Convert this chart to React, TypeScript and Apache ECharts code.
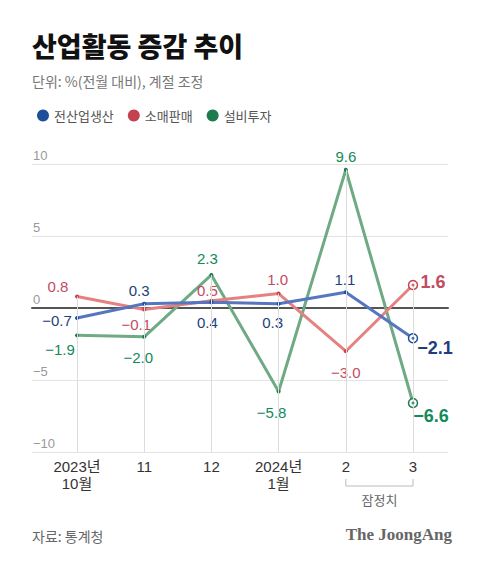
import React, { useEffect, useRef } from "react";
import * as echarts from "echarts";

const categories = ["2023년\n10월", "11", "12", "2024년\n1월", "2", "3"];
const production = [-0.7, 0.3, 0.4, 0.3, 1.1, -2.1];
const retail = [0.8, -0.1, 0.5, 1.0, -3.0, 1.6];
const investment = [-1.9, -2.0, 2.3, -5.8, 9.6, -6.6];
const seriesNames = ["전산업생산", "소매판매", "설비투자"];
const yMin = -10;
const yMax = 10;
const yStep = 5;
const provisionalFrom = 4;
const provisionalTo = 5;

// label placement (label centre relative to the point, px)
const prodOffsets = [[-20, 2], [-5, -13], [-4, 20], [-6, 19], [-1, -13], [22, 10]];
const retailOffsets = [[-19, -10], [-8, 15], [-4, -10], [-1, -14], [0, 21], [20, -3]];
const investOffsets = [[-17, 14], [-6, 21], [-4, -16], [-7, 21], [0, -13], [18, 13]];

const KR = '"Noto Sans CJK KR", sans-serif';
const NUM = '"Liberation Sans", Arial, "Noto Sans CJK KR", sans-serif';

const fmt = (v: number) => (v < 0 ? "\u2212" : "") + Math.abs(v).toFixed(1);

function makeSeries(
  name: string,
  values: number[],
  offsets: number[][],
  lineColor: string,
  dotColor: string,
  labelColor: string,
  z: number
) {
  return {
    name,
    type: "line",
    xAxisIndex: 1,
    yAxisIndex: 1,
    symbol: "circle",
    showSymbol: true,
    z,
    silent: true,
    lineStyle: { color: lineColor, width: 3 },
    itemStyle: { color: dotColor },
    emphasis: { disabled: true },
    data: values.map((v, i) => {
      const last = i === values.length - 1;
      return {
        value: v,
        symbolSize: last ? 9 : 4,
        itemStyle: last
          ? { color: "#fff", borderColor: dotColor, borderWidth: 1.5 }
          : undefined,
        label: {
          show: true,
          position: "inside",
          align: "center",
          verticalAlign: "middle",
          offset: offsets[i],
          formatter: fmt(v),
          color: labelColor,
          fontSize: last ? 18 : 15,
          fontWeight: last ? "bold" : "normal",
          fontFamily: NUM,
        },
      };
    }),
  };
}

function innerDot(values: number[], color: string, z: number) {
  const i = values.length - 1;
  return {
    type: "scatter",
    xAxisIndex: 1,
    yAxisIndex: 1,
    symbol: "circle",
    symbolSize: 3,
    z,
    silent: true,
    itemStyle: { color },
    data: [[i, values[i]]],
  };
}

export default function App() {
  const ref = useRef<HTMLDivElement>(null);

  useEffect(() => {
    document.body.style.margin = "0";
    if (!ref.current) return;
    const chart = echarts.init(ref.current, null, { renderer: "svg" });

    const maxVals = categories.map((_, i) =>
      Math.max(production[i], retail[i], investment[i])
    );

    const blue = { line: "#5677c0", dot: "#1f4f98", label: "#1d3f7a" };
    const red = { line: "#e5817f", dot: "#c4414f", label: "#c34b62" };
    const green = { line: "#6faa85", dot: "#1f7a4e", label: "#138a5a" };

    chart.setOption({
      animation: false,
      backgroundColor: "#fff",
      legend: {
        data: seriesNames,
        left: 32,
        top: 104,
        icon: "circle",
        itemWidth: 12,
        itemHeight: 12,
        itemGap: 14,
        selectedMode: false,
        textStyle: { fontSize: 13, color: "#555", fontFamily: KR },
      },
      grid: [
        { left: 32, right: 32, top: 164, bottom: 114 },
        { left: 77, right: 67, top: 164, bottom: 114 },
      ],
      xAxis: [
        {
          type: "value",
          gridIndex: 0,
          min: 0,
          max: 1,
          axisLine: { show: true, onZero: true, lineStyle: { color: "#555", width: 2 } },
          axisTick: { show: false },
          axisLabel: { show: false },
          splitLine: { show: false },
        },
        {
          type: "category",
          gridIndex: 1,
          boundaryGap: false,
          data: categories,
          axisLine: { show: false },
          axisTick: { show: false },
          splitLine: { show: false },
          axisLabel: {
            color: "#333",
            fontSize: 15,
            lineHeight: 17,
            margin: 6,
            fontFamily: NUM,
          },
        },
      ],
      yAxis: [
        {
          type: "value",
          gridIndex: 0,
          min: yMin,
          max: yMax,
          interval: yStep,
          axisLine: { show: false },
          axisTick: { show: false },
          splitLine: { show: true, lineStyle: { color: "#e3e3e3", width: 1 } },
          axisLabel: {
            inside: true,
            verticalAlign: "bottom",
            margin: 1,
            padding: [0, 0, 2, 0],
            color: "#999",
            fontSize: 13,
            fontFamily: NUM,
            formatter: (v: number) => (v < 0 ? "\u2212" + Math.abs(v) : String(v)),
          },
        },
        {
          type: "value",
          gridIndex: 1,
          min: yMin,
          max: yMax,
          show: false,
        },
      ],
      series: [
        {
          type: "line",
          xAxisIndex: 1,
          yAxisIndex: 1,
          data: maxVals,
          symbol: "none",
          lineStyle: { opacity: 0 },
          silent: true,
          z: 1,
          markLine: {
            silent: true,
            symbol: "none",
            label: { show: false },
            lineStyle: { color: "#dcdcdc", width: 1, type: "solid" },
            data: maxVals.map((m, i) => [
              { coord: [i, m] },
              { coord: [i, yMin] },
            ]),
          },
        },
        makeSeries(seriesNames[2], investment, investOffsets, green.line, green.dot, green.label, 2),
        makeSeries(seriesNames[1], retail, retailOffsets, red.line, red.dot, red.label, 3),
        makeSeries(seriesNames[0], production, prodOffsets, blue.line, blue.dot, blue.label, 4),
        innerDot(investment, green.dot, 6),
        innerDot(retail, red.dot, 6),
        innerDot(production, blue.dot, 6),
      ],
    });

    const p2 = chart.convertToPixel({ gridIndex: 1 }, [provisionalFrom, 0]) as number[];
    const p3 = chart.convertToPixel({ gridIndex: 1 }, [provisionalTo, 0]) as number[];
    const x2 = p2[0];
    const x3 = p3[0];

    chart.setOption({
      graphic: [
        {
          type: "text",
          x: 32,
          y: 45,
          style: {
            text: "산업활동 증감 추이",
            fontSize: 27,
            fontWeight: 900,
            fontFamily: KR,
            fill: "#111",
            align: "left",
            verticalAlign: "middle",
          },
        },
        {
          type: "text",
          x: 32,
          y: 81,
          style: {
            text: "단위: %(전월 대비), 계절 조정",
            fontSize: 14,
            fontFamily: KR,
            fill: "#777",
            align: "left",
            verticalAlign: "middle",
          },
        },
        {
          type: "polyline",
          silent: true,
          shape: { points: [[x2, 479], [x2, 486], [x3, 486], [x3, 479]] },
          style: { stroke: "#bbb", lineWidth: 1, fill: null },
        },
        {
          type: "text",
          x: (x2 + x3) / 2,
          y: 499,
          style: {
            text: "잠정치",
            fontSize: 13,
            fontFamily: KR,
            fill: "#666",
            align: "center",
            verticalAlign: "middle",
          },
        },
        {
          type: "text",
          x: 32,
          y: 536,
          style: {
            text: "자료: 통계청",
            fontSize: 14,
            fontFamily: KR,
            fill: "#666",
            align: "left",
            verticalAlign: "middle",
          },
        },
        {
          type: "text",
          x: 452,
          y: 534,
          style: {
            text: "The JoongAng",
            fontSize: 17,
            fontWeight: "bold",
            fontFamily: '"Liberation Serif", "DejaVu Serif", serif',
            fill: "#666",
            align: "right",
            verticalAlign: "middle",
          },
        },
      ],
    });

    return () => chart.dispose();
  }, []);

  return <div ref={ref} style={{ width: 480, height: 566 }} />;
}
